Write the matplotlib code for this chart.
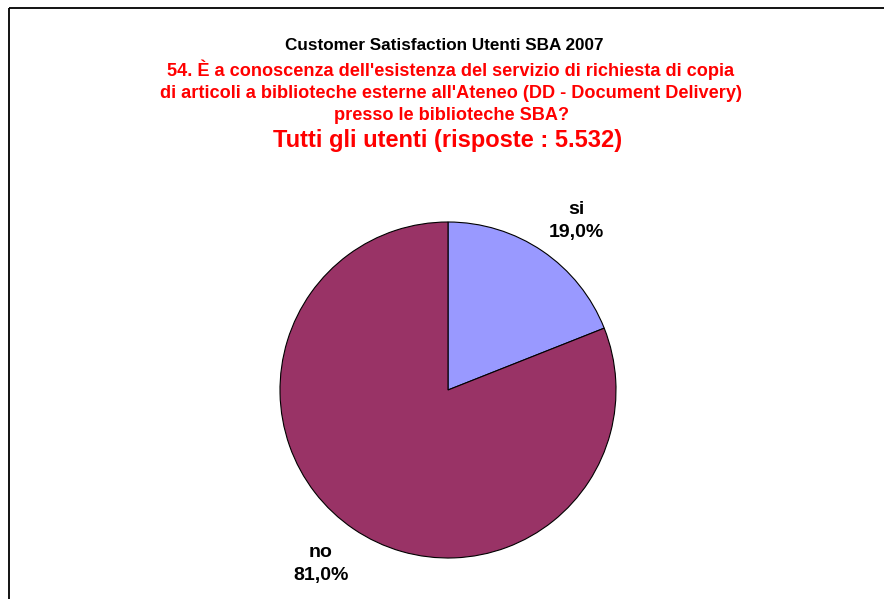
import matplotlib
matplotlib.use("Agg")
import matplotlib.pyplot as plt

categories = ["si", "no"]
values = [19.0, 81.0]
colors = ["#9999FF", "#993366"]

title_black = "Customer Satisfaction Utenti SBA 2007"
title_red = ["54. È a conoscenza dell'esistenza del servizio di richiesta di copia",
             "di articoli a biblioteche esterne all'Ateneo (DD - Document Delivery)",
             "presso le biblioteche SBA?"]
title_big = "Tutti gli utenti (risposte : 5.532)"

plt.rcParams['font.family'] = ['Liberation Sans', 'DejaVu Sans']

W, H = 884, 599
fig = plt.figure(figsize=(W / 100, H / 100), dpi=100)
ax = fig.add_axes([0, 0, 1, 1])

ax.pie(values, colors=colors, startangle=90, counterclock=False,
       center=(448, H - 390), radius=168,
       wedgeprops=dict(edgecolor="black", linewidth=0.8))
ax.set_xlim(0, W)
ax.set_ylim(0, H)
ax.set_aspect('auto')
ax.axis('off')

# frame
ax.plot([8.5, 8.5], [0, H - 8], color="black", lw=1.3, solid_capstyle='butt')
ax.plot([8.5, W], [H - 8, H - 8], color="black", lw=1.3, solid_capstyle='butt')

ax.text(444, H - 45, title_black, ha='center', va='center', fontsize=12.3,
        fontweight='bold', color='black')
for i, line in enumerate(title_red):
    ax.text(451, H - (76.5 + 21.5 * i), line, ha='center', va='baseline', fontsize=13.1,
            fontweight='bold', color='#FF0000')
ax.text(448, H - 140, title_big, ha='center', va='center', fontsize=17,
        fontweight='bold', color='#FF0000')

label_pos = [(576, 221), (321, 564)]
for cat, v, (x, y) in zip(categories, values, label_pos):
    ax.text(x, H - y, f"{cat}\n{v:.1f}%".replace('.', ','), ha='center', va='center',
            fontsize=14, fontweight='bold', color='black', linespacing=1.5)

fig.savefig("out.png", dpi=100)
